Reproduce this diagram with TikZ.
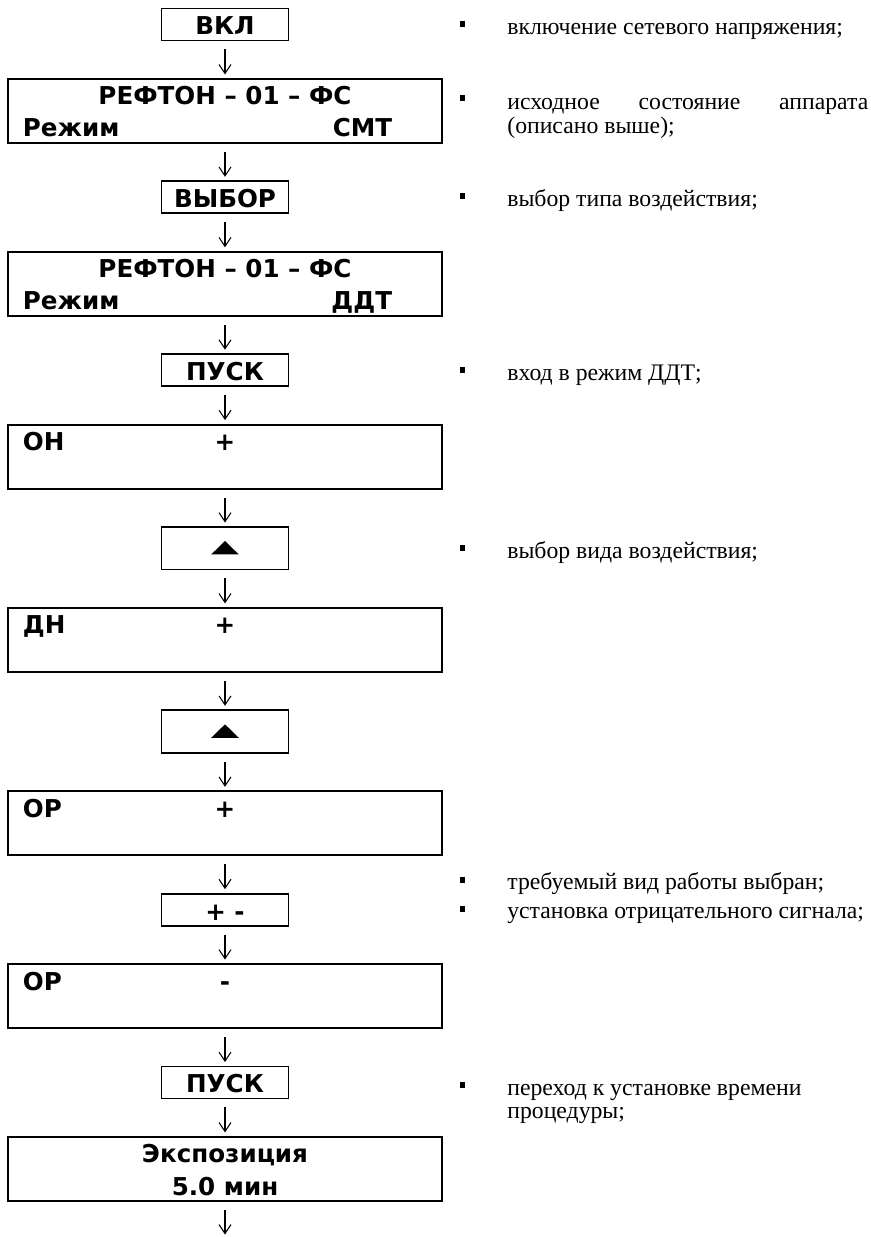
\documentclass[tikz,border=0pt]{standalone}
\usepackage{fontspec}
\setmainfont{Liberation Serif}
\newfontfamily\boxfont{DejaVu Sans}
\usetikzlibrary{positioning,arrows.meta}
\newcommand{\notefont}{\fontsize{13.5pt}{13.6pt}\selectfont}
\newcommand{\keyfont}{\fontsize{14pt}{16pt}\boxfont\bfseries}
\tikzset{
  btn/.style = {draw,line width=1.1pt,minimum width=2.54cm,minimum height=0.64cm,inner sep=0pt,font=\keyfont,text height=0.42cm,text depth=0pt},
  upkey/.style = {btn,minimum height=0.85cm},
  disp/.style = {draw,line width=1.1pt,minimum width=8.70cm,minimum height=1.28cm,inner sep=0pt},
  dtxt/.style = {font=\keyfont,inner sep=0pt},
  arrin/.style = {{Straight Barb[length=1.8mm,width=2.4mm]}-,line width=0.6pt,shorten <=0.07cm,shorten >=0.16cm},
  note/.style = {anchor=base west,inner sep=0pt,font=\notefont},
  bul/.style = {fill,inner sep=0pt,minimum size=0.11cm}
}
\newlength{\vgap}
\setlength{\vgap}{0.73cm}

\begin{document}
\begin{tikzpicture}[x=0.02cm,y=-0.02cm]
\useasboundingbox (0,0) rectangle (871,1237);

\node[btn] (vkl) at (225,24.5) {ВКЛ};

\node[disp,below=\vgap of vkl] (smt) {}
  edge[arrin] (vkl);
\node[dtxt,anchor=base] (smt-a) at ([yshift=-0.54cm]smt.north) {РЕФТОН – 01 – ФС};
\node[dtxt,anchor=base west] (smt-b) at ([xshift=0.32cm,yshift=-1.18cm]smt.north west) {Режим};
\node[dtxt,anchor=base east] (smt-c) at ([xshift=-1.02cm,yshift=-1.18cm]smt.north east) {СМТ};

\node[btn,below=\vgap of smt] (sel) {ВЫБОР}
  edge[arrin] (smt);

\node[disp,below=\vgap of sel] (ddt) {}
  edge[arrin] (sel);
\node[dtxt,anchor=base] (ddt-a) at ([yshift=-0.54cm]ddt.north) {РЕФТОН – 01 – ФС};
\node[dtxt,anchor=base west] (ddt-b) at ([xshift=0.32cm,yshift=-1.18cm]ddt.north west) {Режим};
\node[dtxt,anchor=base east] (ddt-c) at ([xshift=-1.02cm,yshift=-1.18cm]ddt.north east) {ДДТ};

\node[btn,below=\vgap of ddt] (go1) {ПУСК}
  edge[arrin] (ddt);

\node[disp,below=\vgap of go1] (on) {}
  edge[arrin] (go1);
\node[dtxt,anchor=base west] (on-a) at ([xshift=0.32cm,yshift=-0.54cm]on.north west) {ОН};
\node[dtxt,anchor=base] (on-b) at ([yshift=-0.54cm]on.north) {+};

\node[upkey,below=\vgap of on] (up1) {}
  edge[arrin] (on);
\fill ([xshift=-0.277cm,yshift=-0.125cm]up1.center) -- ++(0.554cm,0) -- ++(-0.277cm,0.27cm) -- cycle;

\node[disp,below=\vgap of up1] (dn) {}
  edge[arrin] (up1);
\node[dtxt,anchor=base west] (dn-a) at ([xshift=0.32cm,yshift=-0.54cm]dn.north west) {ДН};
\node[dtxt,anchor=base] (dn-b) at ([yshift=-0.54cm]dn.north) {+};

\node[upkey,below=\vgap of dn] (up2) {}
  edge[arrin] (dn);
\fill ([xshift=-0.277cm,yshift=-0.125cm]up2.center) -- ++(0.554cm,0) -- ++(-0.277cm,0.27cm) -- cycle;

\node[disp,below=\vgap of up2] (or1) {}
  edge[arrin] (up2);
\node[dtxt,anchor=base west] (or1-a) at ([xshift=0.32cm,yshift=-0.54cm]or1.north west) {ОР};
\node[dtxt,anchor=base] (or1-b) at ([yshift=-0.54cm]or1.north) {+};

\node[btn,below=\vgap of or1] (pm) {+ -}
  edge[arrin] (or1);

\node[disp,below=\vgap of pm] (or2) {}
  edge[arrin] (pm);
\node[dtxt,anchor=base west] (or2-a) at ([xshift=0.32cm,yshift=-0.54cm]or2.north west) {ОР};
\node[dtxt,anchor=base] (or2-b) at ([yshift=-0.54cm]or2.north) {-};

\node[btn,below=\vgap of or2] (go2) {ПУСК}
  edge[arrin] (or2);

\node[disp,below=\vgap of go2] (expo) {}
  edge[arrin] (go2);
\node[dtxt,anchor=base] (expo-a) at ([yshift=-0.54cm]expo.north) {Экспозиция};
\node[dtxt,anchor=base] (expo-b) at ([yshift=-1.20cm]expo.north) {5.0 мин};

\coordinate (end) at (225,1238);
\draw[arrin] (end) -- (expo);

% notes on the right
\node[bul] (b1) at (462.5,24) {};
\node[note] (n1) at (507,34.5) {включение сетевого напряжения;};
\node[bul] (b2) at (462.5,98) {};
\node[note] (n2) at (507,110) {\parbox[t]{7.22cm}{исходное\hfill состояние\hfill аппарата\\(описано выше);}};
\node[bul] (b3) at (462.5,196) {};
\node[note] (n3) at (507,206) {выбор типа воздействия;};
\node[bul] (b4) at (462.5,370) {};
\node[note] (n4) at (507,380) {вход в режим ДДТ;};
\node[bul] (b5) at (462.5,548) {};
\node[note] (n5) at (507,558) {выбор вида воздействия;};
\node[bul] (b6) at (462.5,880) {};
\node[note] (n6) at (507,889) {требуемый вид работы выбран;};
\node[bul] (b7) at (462.5,909) {};
\node[note] (n7) at (507,918) {установка отрицательного сигнала;};
\node[bul] (b8) at (462.5,1085) {};
\node[note] (n8) at (507,1095) {\parbox[t]{7.22cm}{переход к установке времени\\процедуры;}};
\end{tikzpicture}
\end{document}
